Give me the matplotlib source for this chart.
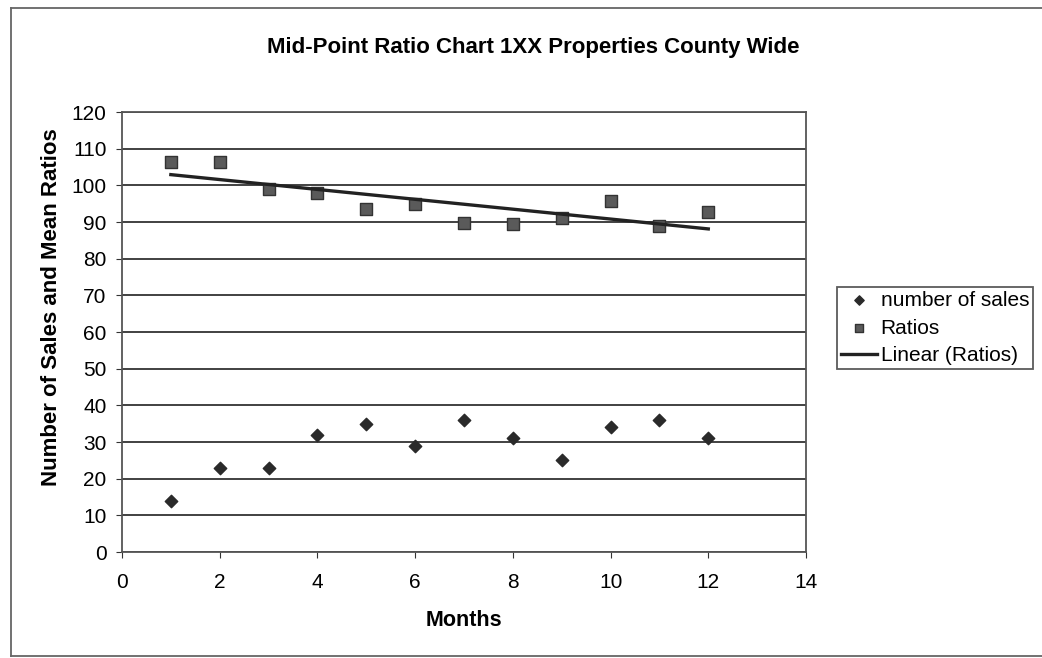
import numpy as np
import matplotlib.pyplot as plt

months = [1, 2, 3, 4, 5, 6, 7, 8, 9, 10, 11, 12]
number_of_sales = [14, 23, 23, 32, 35, 29, 36, 31, 25, 34, 36, 31]
ratios = [106.5, 106.5, 99, 98, 93.5, 95, 89.8, 89.4, 91.2, 95.7, 89, 92.6]

W, H = 1042, 658
fig = plt.figure(figsize=(W / 100, H / 100), dpi=100)
plt.rcParams['font.family'] = ['Liberation Sans', 'DejaVu Sans']

ax = fig.add_axes([122 / W, 1 - 552 / H, (806 - 122) / W, (552 - 112) / H])

ax.scatter(months, number_of_sales, marker='D', s=40, color='#2a2a2a', label='number of sales', zorder=3)
ax.scatter(months, ratios, marker='s', s=65, color='#5a5a5a', edgecolors='#333333', label='Ratios', zorder=3)

# linear trend line through the ratios
slope, intercept = np.polyfit(months, ratios, 1)
xs = np.array([months[0], months[-1]])
ax.plot(xs, slope * xs + intercept, color='#222222', lw=2.4, label='Linear (Ratios)', zorder=4)

ax.set_xlim(0, 14)
ax.set_ylim(0, 120)
ax.set_xticks(range(0, 15, 2))
ax.set_yticks(range(0, 121, 10))
ax.grid(axis='y', color='#333333', lw=1.3)
ax.set_axisbelow(True)
ax.tick_params(labelsize=15, direction='out', length=4, color='#333333')
ax.tick_params(axis='x', pad=11)
ax.tick_params(axis='y', pad=7)
for side in ['left', 'bottom', 'right', 'top']:
    ax.spines[side].set_color('#555555')
    ax.spines[side].set_linewidth(1.3)

fig.text(464 / W, 1 - 621 / H, 'Months', ha='center', va='center', fontsize=15.5, fontweight='bold')
fig.text(52 / W, 1 - 307 / H, 'Number of Sales and Mean Ratios', rotation=90,
         ha='center', va='center', fontsize=16, fontweight='bold')
fig.text(533 / W, 1 - 48 / H, 'Mid-Point Ratio Chart 1XX Properties County Wide',
         ha='center', va='center', fontsize=16, fontweight='bold')

leg = fig.legend(loc='center left', bbox_to_anchor=(837 / W, 1 - 328 / H), fontsize=15,
                 frameon=True, fancybox=False, edgecolor='#333333', handlelength=1.7,
                 handletextpad=0.2, borderpad=0.2, labelspacing=0.42, borderaxespad=0,
                 markerscale=0.75)
leg.get_frame().set_linewidth(1.3)

# outer chart border (top, left, bottom)
for xx, yy in [([11, W], [8, 8]), ([11, 11], [8, 656]), ([11, W], [656, 656])]:
    fig.add_artist(plt.Line2D([x / W for x in xx], [1 - y / H for y in yy],
                              transform=fig.transFigure, color='#666666', lw=1.3))

fig.savefig('out.png', dpi=100)
